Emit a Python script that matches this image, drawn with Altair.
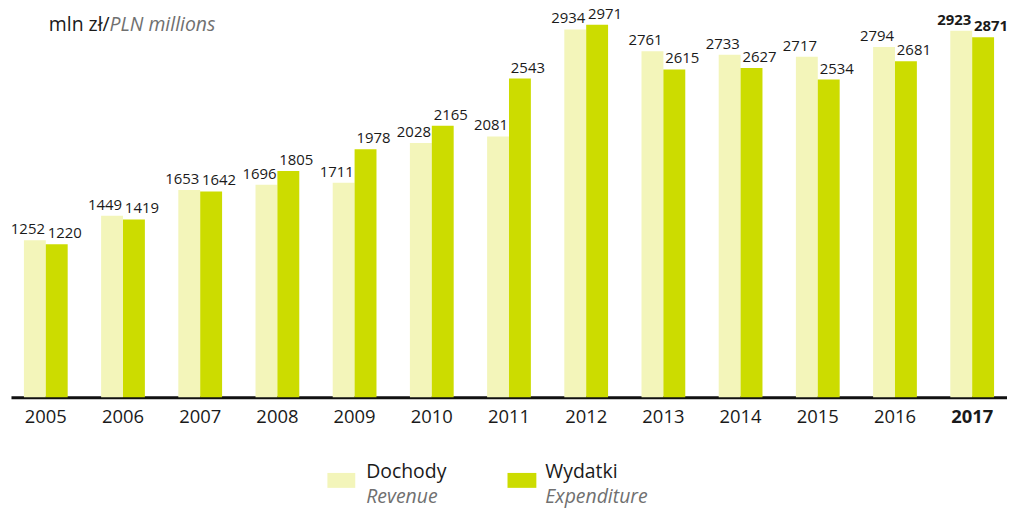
import altair as alt
import pandas as pd

years = ["2005", "2006", "2007", "2008", "2009", "2010", "2011",
         "2012", "2013", "2014", "2015", "2016", "2017"]
revenue = [1252, 1449, 1653, 1696, 1711, 2028, 2081, 2934, 2761, 2733, 2717, 2794, 2923]
expenditure = [1220, 1419, 1642, 1805, 1978, 2165, 2543, 2971, 2615, 2627, 2534, 2681, 2871]
series = ["Dochody", "Wydatki"]
colors = ["#F3F5BA", "#CCDC00"]

rows = []
for i, y in enumerate(years):
    rows.append({"year": y, "series": series[0], "value": revenue[i]})
    rows.append({"year": y, "series": series[1], "value": expenditure[i]})
df = pd.DataFrame(rows)

FONT = "Open Sans"
TXT = "#1a1a1a"

x_enc = alt.X("year:N", sort=years, title=None,
              scale=alt.Scale(paddingInner=0.433, paddingOuter=0.1675),
              axis=alt.Axis(domainColor="#111111", domainWidth=3, ticks=False, grid=False,
                            labelAngle=0, labelFont=FONT, labelFontSize=18.5, labelColor=TXT,
                            labelPadding=10,
                            labelFontWeight={"condition": {"test": "datum.value == '2017'", "value": "bold"},
                                             "value": "normal"}))
xo_enc = alt.XOffset("series:N", sort=series, scale=alt.Scale(paddingInner=0, paddingOuter=0))
y_enc = alt.Y("value:Q", scale=alt.Scale(domain=[0, 3000], nice=False), axis=None)

base = alt.Chart(df)

bars = base.mark_bar().encode(
    x=x_enc, xOffset=xo_enc, y=y_enc,
    color=alt.Color("series:N", scale=alt.Scale(domain=series, range=colors), legend=None),
)

def labels(ser, dx, bold):
    test = "datum.year == '2017'" if bold else "datum.year != '2017'"
    return base.transform_filter(alt.datum.series == ser).transform_filter(test).mark_text(
        dx=dx, dy=-3, baseline="bottom", font=FONT, fontSize=15, color=TXT,
        fontWeight="bold" if bold else "normal"
    ).encode(x=alt.X("year:N", sort=years), xOffset=xo_enc, y=y_enc, text="value:Q")

lab_layers = [labels(series[0], -7, False), labels(series[1], 8, False),
              labels(series[0], -7, True), labels(series[1], 8, True)]

def txt(s, x, y, color=TXT, italic=False, size=19.5):
    return alt.Chart(pd.DataFrame({"t": [s]})).mark_text(
        align="left", baseline="alphabetic", font=FONT, fontSize=size, color=color,
        fontStyle="italic" if italic else "normal"
    ).encode(x=alt.value(x), y=alt.value(y), text="t:N")

def box(x, x2, y, y2, color):
    return alt.Chart(pd.DataFrame({"c": [color]})).mark_rect(color=color).encode(
        x=alt.value(x), x2=alt.value(x2), y=alt.value(y), y2=alt.value(y2))

deco = [
    txt("mln zł/", 38, 10, size=19.5),
    txt("PLN millions", 99, 10, color="#707070", italic=True, size=19.5),
    box(318, 346, 454, 469, colors[0]),
    txt(series[0], 357, 459),
    txt("Revenue", 357, 484, color="#707070", italic=True),
    box(499, 528, 454, 469, colors[1]),
    txt(series[1], 537, 459),
    txt("Expenditure", 537, 484, color="#707070", italic=True),
]

chart = alt.layer(bars, *lab_layers, *deco).properties(
    width=1001, height=378,
    autosize=alt.AutoSizeParams(type="none"),
    padding={"left": 3, "top": 12, "right": 0, "bottom": 111},
).configure_view(stroke=None)

chart.save("out.html", embed_options={"renderer": "svg", "actions": False})
